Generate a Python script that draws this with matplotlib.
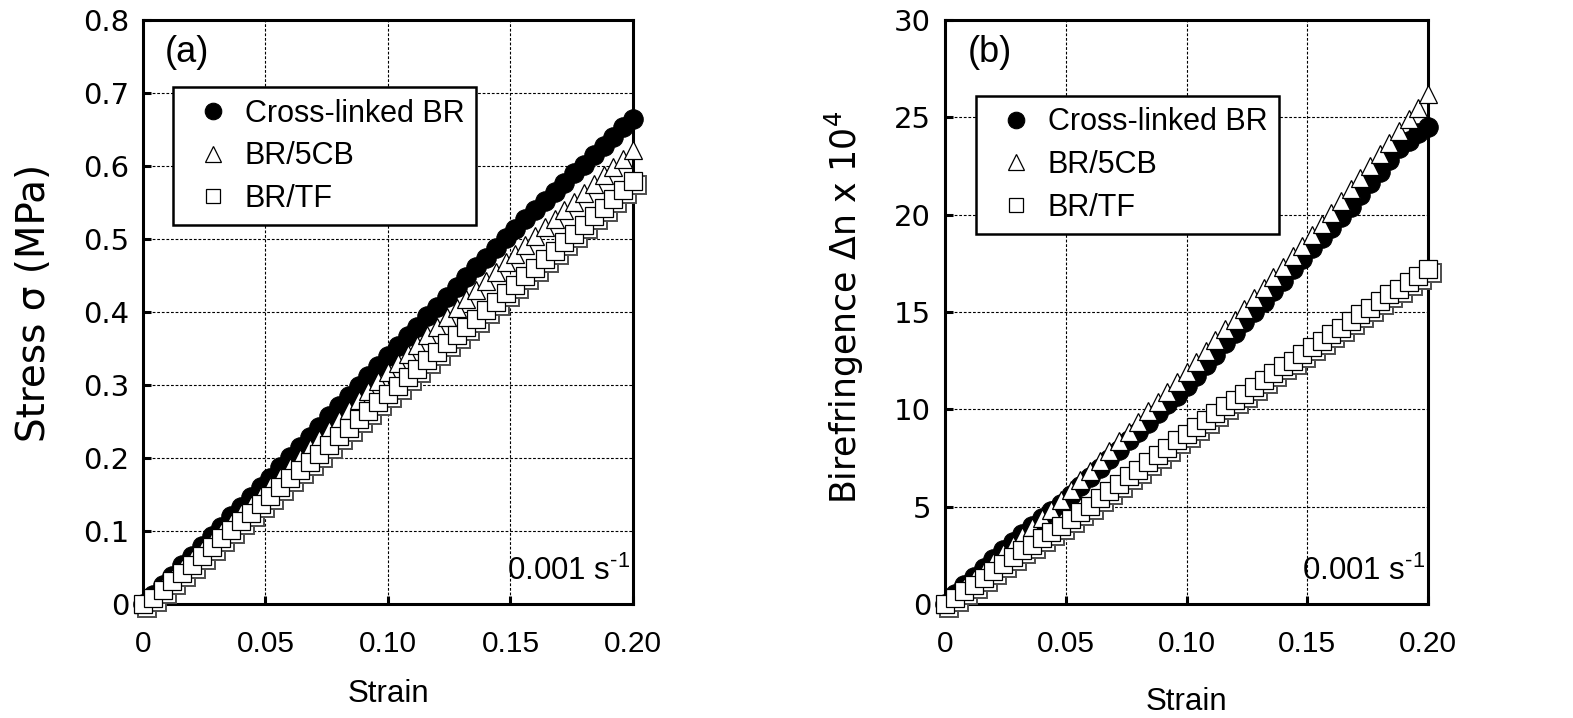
import matplotlib
matplotlib.use('Agg')
from matplotlib import pyplot as plt
import matplotlib.transforms as mtransforms

# strain steps (0.001 s^-1, one point every 4 s)
strain = [0.000, 0.004, 0.008, 0.012, 0.016, 0.020, 0.024, 0.028, 0.032, 0.036,
          0.040, 0.044, 0.048, 0.052, 0.056, 0.060, 0.064, 0.068, 0.072, 0.076,
          0.080, 0.084, 0.088, 0.092, 0.096, 0.100, 0.104, 0.108, 0.112, 0.116,
          0.120, 0.124, 0.128, 0.132, 0.136, 0.140, 0.144, 0.148, 0.152, 0.156,
          0.160, 0.164, 0.168, 0.172, 0.176, 0.180, 0.184, 0.188, 0.192, 0.196,
          0.200]

# (a) stress in MPa
stress_xl = [0.000, 0.012, 0.026, 0.039, 0.053, 0.066, 0.080, 0.093, 0.106, 0.120,
             0.133, 0.146, 0.160, 0.173, 0.187, 0.201, 0.215, 0.229, 0.243, 0.257,
             0.271, 0.285, 0.299, 0.312, 0.326, 0.340, 0.353, 0.367, 0.380, 0.394,
             0.407, 0.421, 0.434, 0.448, 0.461, 0.474, 0.488, 0.501, 0.514, 0.527,
             0.539, 0.552, 0.564, 0.577, 0.590, 0.602, 0.615, 0.628, 0.640, 0.653,
             0.665]
stress_5cb = [0.000, 0.011, 0.024, 0.036, 0.049, 0.061, 0.074, 0.086, 0.099, 0.111,
              0.124, 0.136, 0.149, 0.161, 0.174, 0.187, 0.200, 0.213, 0.226, 0.239,
              0.252, 0.266, 0.279, 0.292, 0.305, 0.318, 0.330, 0.343, 0.355, 0.368,
              0.380, 0.393, 0.405, 0.418, 0.430, 0.443, 0.455, 0.468, 0.480, 0.492,
              0.504, 0.516, 0.527, 0.539, 0.551, 0.563, 0.575, 0.587, 0.598, 0.610,
              0.622]
stress_tf = [0.000, 0.008, 0.019, 0.031, 0.043, 0.054, 0.066, 0.078, 0.090, 0.101,
             0.113, 0.125, 0.137, 0.148, 0.160, 0.172, 0.183, 0.195, 0.206, 0.218,
             0.230, 0.241, 0.253, 0.264, 0.276, 0.288, 0.299, 0.311, 0.322, 0.334,
             0.345, 0.357, 0.368, 0.380, 0.391, 0.403, 0.414, 0.426, 0.437, 0.449,
             0.460, 0.472, 0.484, 0.496, 0.507, 0.519, 0.531, 0.543, 0.555, 0.567,
             0.580]

# (b) birefringence x 10^4
biref_xl = [0.0, 0.5, 0.95, 1.4, 1.85, 2.3, 2.75, 3.2, 3.6, 4.0,
            4.4, 4.8, 5.15, 5.6, 6.05, 6.5, 7.0, 7.45, 7.9, 8.4,
            8.85, 9.3, 9.8, 10.25, 10.7, 11.2, 11.7, 12.3, 12.8, 13.4,
            13.9, 14.5, 15.0, 15.5, 16.1, 16.6, 17.2, 17.7, 18.3, 18.8,
            19.3, 19.9, 20.4, 21.0, 21.6, 22.2, 22.8, 23.4, 23.8, 24.2,
            24.5]
biref_5cb = [0.0, 0.4, 0.85, 1.3, 1.7, 2.15, 2.6, 3.05, 3.5, 3.95,
             4.4, 4.85, 5.35, 5.85, 6.35, 6.85, 7.35, 7.85, 8.35, 8.85,
             9.35, 9.9, 10.4, 10.9, 11.4, 11.9, 12.45, 13.0, 13.55, 14.1,
             14.6, 15.15, 15.7, 16.25, 16.8, 17.3, 17.85, 18.4, 18.95, 19.5,
             20.1, 20.7, 21.3, 21.9, 22.5, 23.1, 23.7, 24.3, 24.9, 25.5,
             26.2]
biref_tf = [0.0, 0.3, 0.65, 1.0, 1.35, 1.7, 2.05, 2.4, 2.75, 3.05,
            3.4, 3.7, 4.0, 4.35, 4.7, 5.05, 5.45, 5.8, 6.15, 6.55,
            6.9, 7.3, 7.65, 8.0, 8.4, 8.75, 9.1, 9.45, 9.8, 10.15,
            10.5, 10.8, 11.15, 11.5, 11.85, 12.2, 12.5, 12.85, 13.2, 13.5,
            13.85, 14.2, 14.55, 14.9, 15.2, 15.55, 15.9, 16.2, 16.55, 16.85,
            17.2]

labels = ['Cross-linked BR', 'BR/5CB', 'BR/TF']

x_ticks = [0, 0.05, 0.10, 0.15, 0.20]
x_tick_labels = ['0', '0.05', '0.10', '0.15', '0.20']
stress_ticks = [0, 0.1, 0.2, 0.3, 0.4, 0.5, 0.6, 0.7, 0.8]
stress_tick_labels = ['0', '0.1', '0.2', '0.3', '0.4', '0.5', '0.6', '0.7', '0.8']
biref_ticks = [0, 5, 10, 15, 20, 25, 30]
biref_tick_labels = ['0', '5', '10', '15', '20', '25', '30']

wide = ['DejaVu Sans']   # the y axis lettering is a wider face

plt.rcParams['font.family'] = ['Liberation Sans', 'DejaVu Sans']
plt.rcParams['mathtext.fontset'] = 'custom'
plt.rcParams['mathtext.rm'] = 'Liberation Sans'
plt.rcParams['lines.scale_dashes'] = False

fig = plt.figure(figsize=(15.73, 7.18), dpi=100)
ax1 = fig.add_axes([0.0909, 0.1588, 0.3115, 0.8134])
ax2 = fig.add_axes([0.6008, 0.1588, 0.3070, 0.8134])


def style_axes(ax, yticks, ylabels):
    ax.set_xticks(x_ticks, x_tick_labels, fontsize=21.5)
    ax.set_yticks(yticks, ylabels, fontsize=21, fontfamily=wide)
    ax.set_xlim(0, 0.2)
    ax.set_ylim(yticks[0], yticks[-1])
    ax.tick_params(direction='in', length=6, width=2.2, top=False, right=False)
    ax.tick_params(axis='x', pad=19)
    ax.tick_params(axis='y', pad=10)
    for s in ax.spines.values():
        s.set_linewidth(2.2)
    ax.grid(True, color='black', linestyle=(0, (2, 1.3)), linewidth=0.8)
    ax.set_axisbelow(True)


def plot_set(ax, xl, cb, tf):
    ax.plot(strain, xl, 'o', ms=14, mfc='black', mec='black', mew=0.8,
            clip_on=False, zorder=4, label=labels[0])
    ax.plot(strain, cb, '^', ms=13, mfc='white', mec='black', mew=0.9,
            clip_on=False, zorder=5, label=labels[1])
    # little grey drop shadow behind the squares
    shadow = mtransforms.offset_copy(ax.transData, fig=fig, x=4, y=-4, units='dots')
    ax.plot(strain, tf, 's', ms=12.5, mfc='white', mec='0.3', mew=1.4,
            clip_on=False, zorder=6, transform=shadow)
    ax.plot(strain, tf, 's', ms=12.5, mfc='white', mec='black', mew=0.9,
            clip_on=False, zorder=7, label=labels[2])


def add_legend(ax, anchor):
    leg = ax.legend(loc='upper left', bbox_to_anchor=anchor, borderaxespad=0,
                    fontsize=22, fancybox=False, edgecolor='black', framealpha=1,
                    borderpad=0.38, handlelength=1.85, handletextpad=0.12,
                    labelspacing=0.41, markerscale=0.85)
    leg.get_frame().set_linewidth(1.8)


# (a) stress
plot_set(ax1, stress_xl, stress_5cb, stress_tf)
style_axes(ax1, stress_ticks, stress_tick_labels)
add_legend(ax1, (0.061, 0.885))
ax1.text(0.045, 0.945, '(a)', transform=ax1.transAxes, fontsize=26, va='center')
ax1.text(0.995, 0.041, r'0.001 s$^{\text{-1}}$', transform=ax1.transAxes,
         fontsize=22.5, ha='right', va='baseline')
ax1.set_xlabel('Strain', fontsize=22.5)
ax1.xaxis.set_label_coords(0.5, -0.128)
ax1.set_ylabel('Stress σ (MPa)', fontsize=28, fontfamily=wide)
ax1.yaxis.set_label_coords(-0.184, 0.515)

# (b) birefringence
plot_set(ax2, biref_xl, biref_5cb, biref_tf)
style_axes(ax2, biref_ticks, biref_tick_labels)
add_legend(ax2, (0.064, 0.870))
ax2.text(0.046, 0.945, '(b)', transform=ax2.transAxes, fontsize=26, va='center')
ax2.text(0.995, 0.041, r'0.001 s$^{\text{-1}}$', transform=ax2.transAxes,
         fontsize=22.5, ha='right', va='baseline')
ax2.set_xlabel('Strain', fontsize=22.5)
ax2.xaxis.set_label_coords(0.5, -0.143)
ax2.set_ylabel(r'Birefringence Δn x 10$^{\mathregular{4}}$', fontsize=25, fontfamily=wide)
ax2.yaxis.set_label_coords(-0.164, 0.508)

plt.savefig('out.png', dpi=100)
